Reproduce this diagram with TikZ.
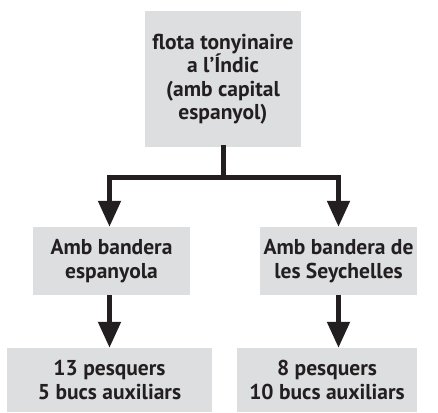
\documentclass[tikz,border=0pt]{standalone}
\usepackage{fontspec}
\setmainfont{PT Sans}
\usetikzlibrary{arrows.meta}
\definecolor{boxgray}{RGB}{221,222,223}
\definecolor{inkdark}{RGB}{35,31,32}
\tikzset{
  box/.style={rectangle, draw=none, fill=boxgray, align=center, text=inkdark,
    font=\fontsize{21.5}{23.5}\selectfont\bfseries, inner sep=0pt},
  link/.style={draw=inkdark, line width=5pt, -{Triangle[width=22pt,length=26pt]}}
}
\begin{document}
\begin{tikzpicture}[x=1pt,y=1pt]
    \useasboundingbox (0,0) rectangle (438,412);

    \node(flota)[box, minimum width=156pt, minimum height=136pt] at (223,333)
      {flota tonyinaire\\a l’Índic\\(amb capital\\espanyol)};

    \node(esp)[box, minimum width=157pt, minimum height=68pt] at (111.5,151)
      {Amb bandera\\espanyola};
    \node(sey)[box, minimum width=157pt, minimum height=68pt] at (338.5,151)
      {Amb bandera de\\les Seychelles};

    \node(esp-n)[box, minimum width=205pt, minimum height=64pt] at (109.5,32)
      {13 pesquers\\5 bucs auxiliars};
    \node(sey-n)[box, minimum width=180pt, minimum height=64pt] at (327,32)
      {8 pesquers\\10 bucs auxiliars};

    \coordinate(fork) at (223,234);

    \draw[draw=inkdark, line width=5pt, line cap=rect] (flota.south) -- (fork);
    \draw[link] (fork) -| ([xshift=-2pt]esp.north);
    \draw[link] (fork) -| (sey.north);
    \draw[link] ([xshift=-2pt]esp.south) -- ([xshift=-2pt]esp.south |- esp-n.north);
    \draw[link] (sey.south) -- (sey.south |- sey-n.north);
  \end{tikzpicture}
\end{document}
